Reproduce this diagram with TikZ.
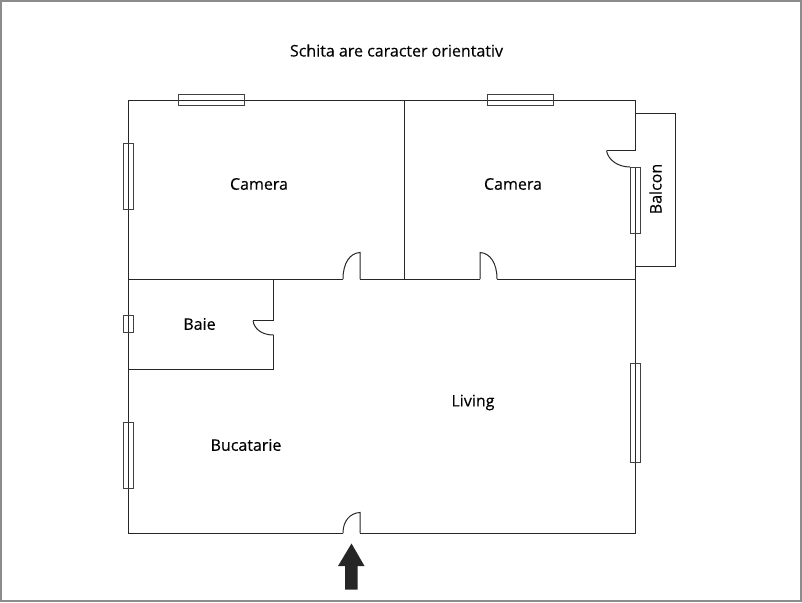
\documentclass[tikz,border=0pt]{standalone}
\usepackage{fontspec}
\setmainfont[FakeBold=0.2]{Open Sans}
\tikzset{
  wall/.style={draw=black!85,line width=1pt},
  windowbox/.style={draw=black!75,line width=1pt},
  label/.style={font=\fontsize{16}{19}\selectfont,text=black,inner sep=0pt}
}
\begin{document}
\begin{tikzpicture}[x=1pt,y=-1pt]
\useasboundingbox (0,0) rectangle (802,602);
\draw[draw=black!45,line width=2pt] (1,1) rectangle (801,601);
% balcony
\draw[wall,line width=.9pt] (635.5,113) -- (675,113) -- (675,266) -- (635.5,266);
% outer walls and partitions
\draw[wall] (635.5,150.5) -- (635.5,100) -- (128.5,100) -- (128.5,533) -- (343,533);
\draw[wall] (360,533) -- (635.5,533) -- (635.5,167);
\draw[wall] (404,100) -- (404,279);
\draw[wall] (128.5,279) -- (343,279);
\draw[wall] (360,279) -- (480,279);
\draw[wall] (497,279) -- (635.5,279);
\draw[wall] (273.5,279) -- (273.5,320.5) -- (253,320.5);
\draw[wall] (273.5,335) -- (273.5,369) -- (128.5,369);
\draw[wall] (635.5,150.5) -- (606.5,150.5);
% door leaves
\draw[wall] (343,279) .. controls (343,263) and (350,253) .. (360,252.5) -- (360,279);
\draw[wall] (497,279) .. controls (497,263) and (490,253) .. (480,252.5) -- (480,279);
\draw[wall] (343,533) .. controls (343,521) and (350,513) .. (360,512.5) -- (360,533);
\draw[wall] (253,320.5) .. controls (254,329) and (262,335) .. (273.5,335);
\draw[wall] (606.5,150.5) .. controls (608,160) and (618,167) .. (630,167);
% windows
\draw[windowbox] (178,94.5) rectangle (244.5,105.5);
\draw[windowbox] (487,94.5) rectangle (553,105.5);
\draw[windowbox] (123,143) rectangle (133.5,209.5);
\draw[windowbox] (123,315) rectangle (133.5,332.5);
\draw[windowbox] (123,422) rectangle (133.5,488.5);
\draw[windowbox] (630,167) rectangle (640.5,233.5);
\draw[windowbox] (630,363) rectangle (640.5,462.5);
% entrance arrow
\fill[black!85] (351.5,543.5) -- (364.5,566) -- (357.5,566) -- (357.5,589.5) -- (345,589.5) -- (345,566) -- (338,566) -- cycle;
% labels
\node[label] (title) at (396.5,50.5) {Schita are caracter orientativ};
\node[label] (cam1) at (259,184) {Camera};
\node[label] (cam2) at (513,184) {Camera};
\node[label] (baie) at (199.5,324) {Baie};
\node[label] (living) at (473,402.5) {Living};
\node[label] (buc) at (246,445) {Bucatarie};
\node[label,rotate=90] (balcon) at (655.5,189) {Balcon};
\end{tikzpicture}
\end{document}
